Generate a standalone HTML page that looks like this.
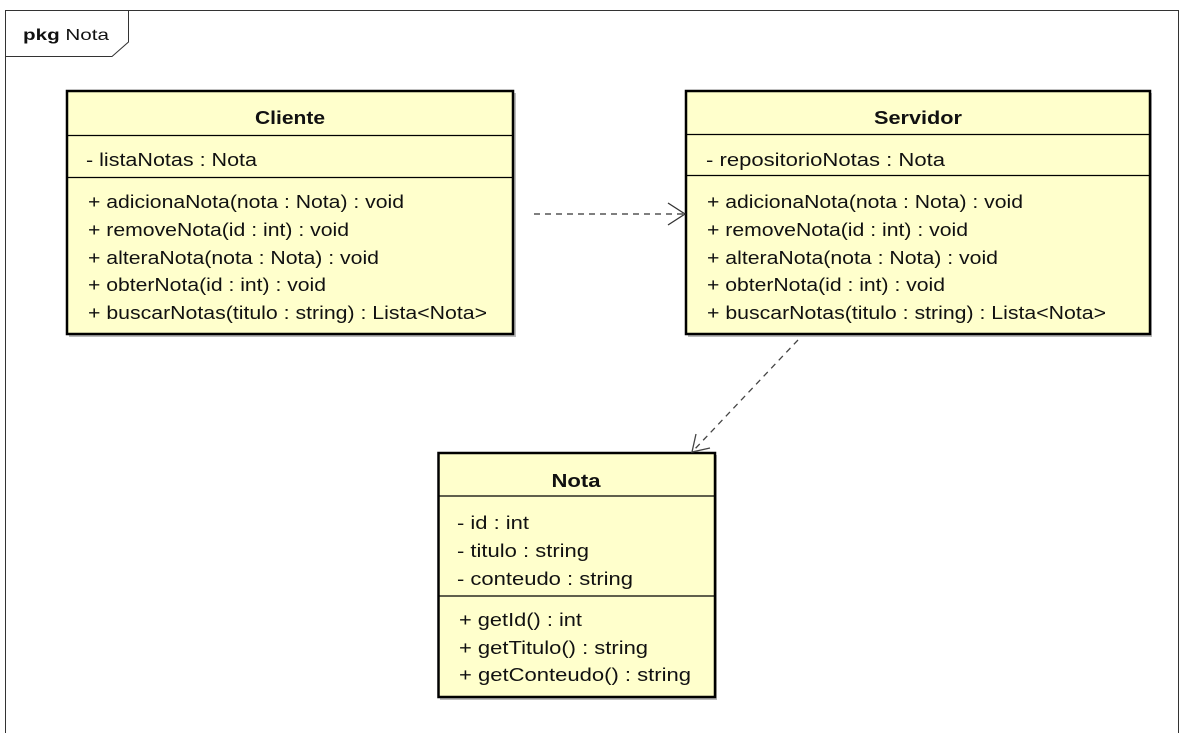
<!DOCTYPE html>
<html><head><meta charset="utf-8"><style>
html,body{margin:0;padding:0;background:#fff;width:1190px;height:750px;overflow:hidden}
svg{display:block}
text{font-family:"Liberation Sans",Arial,sans-serif;font-size:18px;fill:#111}
.t{font-weight:bold;text-anchor:middle;font-size:18px}
</style></head><body>
<svg width="1190" height="750" viewBox="0 0 1190 750" xmlns="http://www.w3.org/2000/svg">
<path d="M5.5 733 V10.5 H1178.5 V733" fill="none" stroke="#333" stroke-width="1"/>
<path d="M5.5 56.5 H112 L128.5 42 V10.5" fill="none" stroke="#333" stroke-width="1"/>
<text x="23" y="40" style="font-size:16px" textLength="86" lengthAdjust="spacingAndGlyphs"><tspan font-weight="bold">pkg</tspan> Nota</text>

<!-- Cliente -->
<rect x="69" y="93" width="447" height="244" fill="#bbb"/>
<rect x="67" y="91" width="446" height="243" fill="#ffffcc" stroke="#000" stroke-width="2.5"/>
<line x1="67" y1="135.5" x2="513" y2="135.5" stroke="#000" stroke-width="1.3"/>
<line x1="67" y1="177.5" x2="513" y2="177.5" stroke="#000" stroke-width="1.3"/>
<text class="t" x="290" y="124" textLength="70" lengthAdjust="spacingAndGlyphs">Cliente</text>
<text x="86" y="166" textLength="171" lengthAdjust="spacingAndGlyphs">- listaNotas : Nota</text>
<text x="88" y="208" textLength="316" lengthAdjust="spacingAndGlyphs">+ adicionaNota(nota : Nota) : void</text>
<text x="88" y="236" textLength="261" lengthAdjust="spacingAndGlyphs">+ removeNota(id : int) : void</text>
<text x="88" y="264" textLength="291" lengthAdjust="spacingAndGlyphs">+ alteraNota(nota : Nota) : void</text>
<text x="88" y="291" textLength="238" lengthAdjust="spacingAndGlyphs">+ obterNota(id : int) : void</text>
<text x="88" y="319" textLength="399" lengthAdjust="spacingAndGlyphs">+ buscarNotas(titulo : string) : Lista&lt;Nota&gt;</text>

<!-- Servidor -->
<rect x="688" y="93" width="464" height="244" fill="#bbb"/>
<rect x="686" y="91" width="464" height="243" fill="#ffffcc" stroke="#000" stroke-width="2.5"/>
<line x1="686" y1="134.5" x2="1150" y2="134.5" stroke="#000" stroke-width="1.3"/>
<line x1="686" y1="175.5" x2="1150" y2="175.5" stroke="#000" stroke-width="1.3"/>
<text class="t" x="918" y="124" textLength="88" lengthAdjust="spacingAndGlyphs">Servidor</text>
<text x="706" y="166" textLength="239" lengthAdjust="spacingAndGlyphs">- repositorioNotas : Nota</text>
<text x="707" y="208" textLength="316" lengthAdjust="spacingAndGlyphs">+ adicionaNota(nota : Nota) : void</text>
<text x="707" y="236" textLength="261" lengthAdjust="spacingAndGlyphs">+ removeNota(id : int) : void</text>
<text x="707" y="264" textLength="291" lengthAdjust="spacingAndGlyphs">+ alteraNota(nota : Nota) : void</text>
<text x="707" y="291" textLength="238" lengthAdjust="spacingAndGlyphs">+ obterNota(id : int) : void</text>
<text x="707" y="319" textLength="399" lengthAdjust="spacingAndGlyphs">+ buscarNotas(titulo : string) : Lista&lt;Nota&gt;</text>

<!-- Nota -->
<rect x="440" y="455" width="277" height="245" fill="#bbb"/>
<rect x="438.5" y="453" width="276.5" height="244" fill="#ffffcc" stroke="#000" stroke-width="2.5"/>
<line x1="438" y1="496" x2="715" y2="496" stroke="#000" stroke-width="1.3"/>
<line x1="438" y1="596" x2="715" y2="596" stroke="#000" stroke-width="1.3"/>
<text class="t" x="576" y="487" textLength="49" lengthAdjust="spacingAndGlyphs">Nota</text>
<text x="457" y="529" textLength="72" lengthAdjust="spacingAndGlyphs">- id : int</text>
<text x="457" y="557" textLength="132" lengthAdjust="spacingAndGlyphs">- titulo : string</text>
<text x="457" y="585" textLength="176" lengthAdjust="spacingAndGlyphs">- conteudo : string</text>
<text x="459" y="626" textLength="123" lengthAdjust="spacingAndGlyphs">+ getId() : int</text>
<text x="459" y="654" textLength="189" lengthAdjust="spacingAndGlyphs">+ getTitulo() : string</text>
<text x="459" y="681" textLength="232" lengthAdjust="spacingAndGlyphs">+ getConteudo() : string</text>

<!-- connectors -->
<line x1="534" y1="214" x2="684" y2="214" stroke="#333" stroke-width="1.3" stroke-dasharray="6,5"/>
<path d="M668 203 L685 214 L668 225" fill="none" stroke="#333" stroke-width="1.3"/>
<line x1="798" y1="340" x2="693" y2="451" stroke="#444" stroke-width="1.3" stroke-dasharray="6,5"/>
<path d="M696 434 L692 452 L710 448" fill="none" stroke="#444" stroke-width="1.3"/>
</svg>
</body></html>
